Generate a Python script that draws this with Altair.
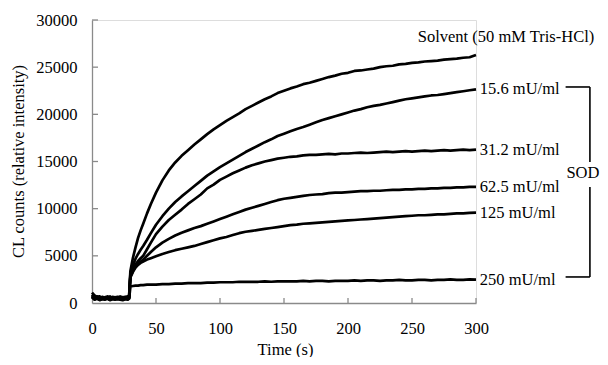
import altair as alt
import pandas as pd

FONT = "Liberation Serif"
FS = 16.5

times = [0, 2, 4, 6, 8, 10, 12, 14, 16, 18, 20, 22, 24, 26, 28, 29, 30,
         32, 34, 36, 38, 40, 43, 46,
         50, 55, 60, 65, 70, 75, 80, 85, 90, 95, 100,
         105, 110, 115, 120, 125, 130, 135, 140, 145, 150,
         155, 160, 165, 170, 175, 180, 185, 190, 195, 200,
         205, 210, 215, 220, 225, 230, 235, 240, 245, 250,
         255, 260, 265, 270, 275, 280, 285, 290, 295, 300]

solvent = [1100, 800, 650, 700, 550, 600, 700, 500, 650, 600, 550, 700, 600, 650, 700, 800, 3400,
           4800, 5900, 6900, 7700, 8400, 9500, 10500,
           11700, 13000, 14050, 14900, 15600, 16200, 16800, 17350, 17900, 18400, 18850,
           19300, 19700, 20100, 20550, 20900, 21250, 21600, 21900, 22250, 22500,
           22750, 22950, 23200, 23350, 23550, 23750, 23950, 24100, 24300, 24400,
           24600, 24650, 24750, 24850, 25000, 25100, 25150, 25300, 25350, 25450,
           25500, 25600, 25650, 25700, 25800, 25850, 25900, 26000, 26050, 26300]

sod_15_6 = [900, 600, 700, 500, 650, 550, 600, 700, 500, 600, 650, 550, 600, 500, 650, 700, 3100,
            4000, 4700, 5200, 5650, 6050, 6700, 7400,
            8300, 9200, 10000, 10700, 11300, 11850, 12400, 12950, 13500, 13950, 14400,
            14800, 15200, 15600, 16000, 16350, 16700, 17050, 17350, 17700, 17950,
            18200, 18450, 18650, 18900, 19150, 19400, 19600, 19800, 20000, 20200,
            20400, 20550, 20750, 20900, 21000, 21150, 21300, 21450, 21600, 21700,
            21800, 21900, 22000, 22050, 22150, 22250, 22350, 22450, 22550, 22650]

sod_31_2 = [800, 500, 600, 450, 550, 500, 600, 450, 550, 500, 600, 500, 450, 550, 500, 600, 2900,
            3600, 4100, 4450, 4750, 5000, 5700, 6400,
            7300, 8100, 8800, 9350, 9900, 10500, 11000, 11500, 12150, 12550, 13050,
            13400, 13750, 14050, 14350, 14600, 14800, 15000, 15150, 15300, 15400,
            15500, 15550, 15650, 15700, 15700, 15750, 15800, 15750, 15850, 15850,
            15900, 15950, 15900, 15950, 16000, 16050, 16000, 16050, 16100, 16050,
            16100, 16150, 16100, 16150, 16200, 16150, 16200, 16250, 16200, 16250]

sod_62_5 = [700, 450, 550, 400, 500, 450, 550, 400, 500, 450, 500, 450, 400, 500, 450, 550, 2800,
            3400, 3850, 4150, 4400, 4600, 5000, 5400,
            5900, 6400, 6800, 7150, 7450, 7700, 7950, 8150, 8400, 8650, 8900,
            9150, 9400, 9650, 9900, 10100, 10300, 10500, 10700, 10900, 11050,
            11150, 11250, 11350, 11450, 11500, 11550, 11650, 11700, 11700, 11750,
            11800, 11850, 11850, 11900, 11900, 11950, 12000, 12000, 12050, 12050,
            12100, 12100, 12150, 12150, 12200, 12200, 12250, 12250, 12300, 12300]

sod_125 = [650, 400, 500, 350, 450, 400, 500, 350, 450, 400, 450, 400, 350, 450, 400, 500, 2700,
           3300, 3750, 4050, 4250, 4400, 4600, 4750,
           4950, 5200, 5400, 5600, 5750, 5900, 6050, 6250, 6450, 6650, 6850,
           7000, 7200, 7400, 7550, 7650, 7750, 7850, 7950, 8050, 8150,
           8250, 8300, 8400, 8450, 8500, 8550, 8600, 8650, 8700, 8750,
           8800, 8850, 8900, 8950, 9000, 9050, 9100, 9150, 9200, 9250,
           9300, 9300, 9350, 9400, 9400, 9450, 9500, 9500, 9550, 9580]

sod_250 = [600, 350, 450, 300, 400, 350, 450, 300, 400, 350, 400, 350, 300, 400, 350, 450, 1750,
           1800, 1850, 1850, 1900, 1900, 1950, 1950,
           1950, 2000, 2000, 2050, 2050, 2100, 2100, 2100, 2150, 2150, 2200,
           2200, 2200, 2250, 2250, 2250, 2250, 2300, 2250, 2300, 2300,
           2300, 2300, 2350, 2300, 2350, 2350, 2300, 2350, 2350, 2350,
           2400, 2350, 2400, 2400, 2350, 2400, 2400, 2450, 2400, 2400,
           2450, 2450, 2400, 2450, 2450, 2500, 2450, 2450, 2500, 2480]

series_names = ["Solvent", "15.6", "31.2", "62.5", "125", "250"]
series_vals = [solvent, sod_15_6, sod_31_2, sod_62_5, sod_125, sod_250]

rows = []
for name, vals in zip(series_names, series_vals):
    for t, v in zip(times, vals):
        rows.append({"series": name, "t": t, "v": v})
df = pd.DataFrame(rows)

x_ticks = [0, 50, 100, 150, 200, 250, 300]
y_ticks = [0, 5000, 10000, 15000, 20000, 25000, 30000]

label_text = ["Solvent (50 mM Tris-HCl)", "15.6 mU/ml", "31.2 mU/ml", "62.5 mU/ml",
              "125 mU/ml", "250 mU/ml", "SOD"]
label_t = [254.5, 303, 303, 303, 303, 303, 383.5]
label_v = [28200, 22650, 16220, 12300, 9580, 2480, 13780]
label_align = ["left", "left", "left", "left", "left", "left", "center"]
labels_df = pd.DataFrame({"text": label_text, "t": label_t, "v": label_v, "align": label_align})

# bracket segments for SOD (data coordinates)
br_t1 = [370, 389, 389, 370]
br_t2 = [389, 389, 389, 389]
br_v1 = [22900, 22900, 12300, 2760]
br_v2 = [22900, 14950, 2760, 2760]
bracket_df = pd.DataFrame({"t1": br_t1, "t2": br_t2, "v1": br_v1, "v2": br_v2})

# inner tick marks (length in data units)
ytick_df = pd.DataFrame({"v": y_ticks[1:], "x0": [0] * 6, "x1": [4.7] * 6})
xtick_df = pd.DataFrame({"t": x_ticks[1:], "y0": [0] * 6, "y1": [530] * 6})

xscale = alt.Scale(domain=[0, 300], nice=False, zero=False)
yscale = alt.Scale(domain=[0, 30000], nice=False)

x_axis = alt.Axis(values=x_ticks, title="Time (s)", grid=False, ticks=False, tickSize=0,
                  labelPadding=17, labelFlush=False, format="d",
                  domainColor="#8a8a8a", domainWidth=1.3,
                  labelFont=FONT, labelFontSize=FS, labelColor="black",
                  titleFont=FONT, titleFontSize=FS, titleFontWeight="normal", titleColor="black",
                  titleX=193, titleY=46, titleBaseline="middle", titleAnchor="middle")
y_axis = alt.Axis(values=y_ticks, title="CL counts (relative intensity)", grid=False,
                  ticks=False, tickSize=0, labelPadding=15, labelFlush=False, format="d",
                  domainColor="#8a8a8a", domainWidth=1.3,
                  labelFont=FONT, labelFontSize=FS, labelColor="black",
                  titleFont=FONT, titleFontSize=FS, titleFontWeight="normal", titleColor="black",
                  titleX=-74, titleY=141, titleAngle=270, titleBaseline="middle", titleAnchor="middle")

lines = alt.Chart(df).mark_line(color="black", strokeWidth=2.7, strokeJoin="round").encode(
    x=alt.X("t:Q", scale=xscale, axis=x_axis),
    y=alt.Y("v:Q", scale=yscale, axis=y_axis),
    detail="series:N",
)

yticks = alt.Chart(ytick_df).mark_rule(color="#8a8a8a", strokeWidth=1.3).encode(
    y=alt.Y("v:Q", scale=yscale), x=alt.X("x0:Q", scale=xscale), x2="x1:Q")

xticks = alt.Chart(xtick_df).mark_rule(color="#8a8a8a", strokeWidth=1.3).encode(
    x=alt.X("t:Q", scale=xscale), y=alt.Y("y0:Q", scale=yscale), y2="y1:Q")

text_left = alt.Chart(labels_df[labels_df["align"] == "left"]).mark_text(
    font=FONT, fontSize=FS, color="black", align="left", baseline="middle").encode(
    x=alt.X("t:Q", scale=xscale), y=alt.Y("v:Q", scale=yscale), text="text:N")
text_center = alt.Chart(labels_df[labels_df["align"] == "center"]).mark_text(
    font=FONT, fontSize=FS, color="black", align="center", baseline="middle").encode(
    x=alt.X("t:Q", scale=xscale), y=alt.Y("v:Q", scale=yscale), text="text:N")

bracket = alt.Chart(bracket_df).mark_rule(color="black", strokeWidth=1.6).encode(
    x=alt.X("t1:Q", scale=xscale), x2="t2:Q",
    y=alt.Y("v1:Q", scale=yscale), y2="v2:Q")

chart = alt.layer(yticks, xticks, lines, text_left, text_center, bracket).properties(
    width=384, height=283,
    padding={"left": 84, "top": 12, "right": 124, "bottom": 54},
    autosize=alt.AutoSizeParams(type="none"),
).configure_view(stroke=None).configure(background="white")

chart.save("out.html", embed_options={"renderer": "svg", "actions": False})
